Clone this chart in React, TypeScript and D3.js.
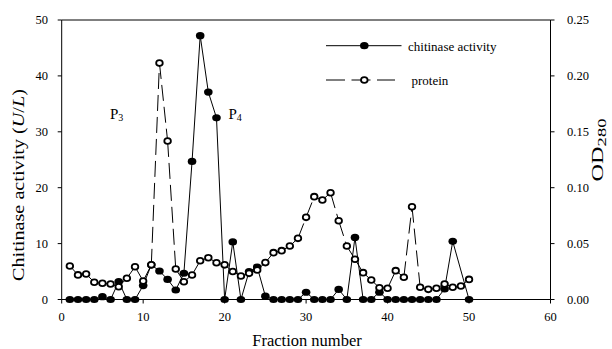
import React from "react";
import * as d3 from "d3";

const fractions = [1,2,3,4,5,6,7,8,9,10,11,12,13,14,15,16,17,18,19,20,21,22,23,24,25,26,27,28,29,30,31,32,33,34,35,36,37,38,39,40,41,42,43,44,45,46,47,48,49,50];
const chitinase: (number | null)[] = [0,0,0,0,0.5,0,3.2,0,0,2.5,6.2,5.1,3.6,1.7,4.7,24.7,47.2,37.1,32.5,0,10.3,0,5.0,5.8,0.6,0,0,0,0,1.3,0,0,0,1.8,0,11.1,0,0,1.3,0,0,0,0,0,0,0,1.9,10.4,null,0];
const protein = [0.030,0.022,0.0228,0.0154,0.0145,0.0139,0.0115,0.019,0.0293,0.0165,0.031,0.2115,0.1418,0.0273,0.0159,0.0219,0.0347,0.0374,0.0329,0.031,0.025,0.021,0.0234,0.0264,0.033,0.0419,0.0437,0.0478,0.0547,0.0735,0.092,0.089,0.0955,0.0705,0.0478,0.036,0.024,0.0174,0.0105,0.010,0.0258,0.0199,0.083,0.0109,0.0091,0.010,0.0139,0.0109,0.0121,0.018];
const xTicks = [0,10,20,30,40,50,60];
const yTicks = [0,10,20,30,40,50];
const y2Ticks = [0,0.05,0.1,0.15,0.2,0.25];

const FONT = "Liberation Serif, DejaVu Serif, Times New Roman, serif";
const ts = { fontFamily: FONT };

export default function App() {
  const L = 61.7, R = 550.5, T = 20, B = 299.5;
  const x = d3.scaleLinear().domain([0, 60]).range([L, R]);
  const y = d3.scaleLinear().domain([0, 50]).range([B, T]);
  const y2 = d3.scaleLinear().domain([0, 0.25]).range([B, T]);

  const chPts = fractions
    .map((f, i) => ({ f, v: chitinase[i] }))
    .filter((d) => d.v !== null) as { f: number; v: number }[];
  const chLine = d3.line<{ f: number; v: number }>().x((d) => x(d.f)).y((d) => y(d.v))(chPts) || "";

  const prPts = fractions.map((f, i) => ({ f, v: protein[i] }));
  const prSegs = prPts.slice(1).map((d, i) => ({ a: prPts[i], b: d }));

  return (
    <svg width={612} height={349} style={{ position: "absolute", left: 0, top: 0, background: "#fff", fontFamily: FONT }}>
      {/* frame */}
      <line x1={L} x2={R} y1={T} y2={T} stroke="#000" strokeWidth={1} />
      <line x1={L} x2={R} y1={B} y2={B} stroke="#000" strokeWidth={1} />
      <line x1={L} x2={L} y1={T} y2={B} stroke="#000" strokeWidth={1} />
      <line x1={R} x2={R} y1={T} y2={B} stroke="#000" strokeWidth={1} />

      {/* x ticks */}
      {xTicks.map((t) => (
        <g key={"x" + t}>
          <line x1={x(t)} x2={x(t)} y1={B} y2={B + 4} stroke="#000" />
          <text style={ts} x={x(t)} y={320.5} textAnchor="middle" fontSize={12.5}>{t}</text>
        </g>
      ))}
      {/* left y ticks */}
      {yTicks.map((t) => (
        <g key={"y" + t}>
          <line x1={L - 4} x2={L} y1={y(t)} y2={y(t)} stroke="#000" />
          <text style={ts} x={48} y={y(t)} dy="0.35em" textAnchor="end" fontSize={12.5}>{t}</text>
        </g>
      ))}
      {/* right y ticks */}
      {y2Ticks.map((t) => (
        <g key={"y2" + t}>
          <line x1={R} x2={R + 4} y1={y2(t)} y2={y2(t)} stroke="#000" />
          <text style={ts} x={567} y={y2(t)} dy="0.35em" textAnchor="start" fontSize={12.5}>{t.toFixed(2)}</text>
        </g>
      ))}

      {/* axis titles */}
      <text style={ts} x={307} y={345.5} textAnchor="middle" fontSize={16.5}>Fraction number</text>
      <text style={ts} transform={`translate(24,185) rotate(-90)`} textAnchor="middle" fontSize={16.5} textLength={192} lengthAdjust="spacingAndGlyphs">
        Chitinase activity (<tspan fontStyle="italic">U</tspan>/<tspan fontStyle="italic">L</tspan>)
      </text>
      <text style={ts} transform={`translate(603,150) rotate(-90)`} textAnchor="middle" fontSize={17} textLength={63} lengthAdjust="spacingAndGlyphs">
        OD<tspan fontSize={13} dy={3}>280</tspan>
      </text>

      {/* peak labels */}
      <text style={ts} x={110} y={118.5} fontSize={15}>P<tspan fontSize={10} dy={2}>3</tspan></text>
      <text style={ts} x={228.5} y={118.5} fontSize={15}>P<tspan fontSize={10} dy={2}>4</tspan></text>

      {/* chitinase series */}
      <path d={chLine} fill="none" stroke="#000" strokeWidth={1} />
      {chPts.map((d) => (
        <ellipse key={"c" + d.f} cx={x(d.f)} cy={y(d.v)} rx={4.3} ry={3.6} fill="#000" />
      ))}

      {/* protein series */}
      {prSegs.map((s, i) => (
        <line key={"s" + i} x1={x(s.a.f)} y1={y2(s.a.v)} x2={x(s.b.f)} y2={y2(s.b.v)} stroke="#000" strokeWidth={1} strokeDasharray="16 6" />
      ))}
      {prPts.map((d) => (
        <ellipse key={"p" + d.f} cx={x(d.f)} cy={y2(d.v)} rx={3.3} ry={2.9} fill="#fff" stroke="#000" strokeWidth={1.8} />
      ))}

      {/* legend */}
      <line x1={326} x2={401.5} y1={45.7} y2={45.7} stroke="#000" />
      <ellipse cx={364.3} cy={45.7} rx={4.3} ry={3.6} fill="#000" />
      <text style={ts} x={408} y={50.5} fontSize={13}>chitinase activity</text>
      <line x1={326} x2={395} y1={80} y2={80} stroke="#000" strokeDasharray="19 6.5" />
      <ellipse cx={364.3} cy={80} rx={3.3} ry={2.9} fill="#fff" stroke="#000" strokeWidth={1.8} />
      <text style={ts} x={411.5} y={85} fontSize={13}>protein</text>
    </svg>
  );
}
